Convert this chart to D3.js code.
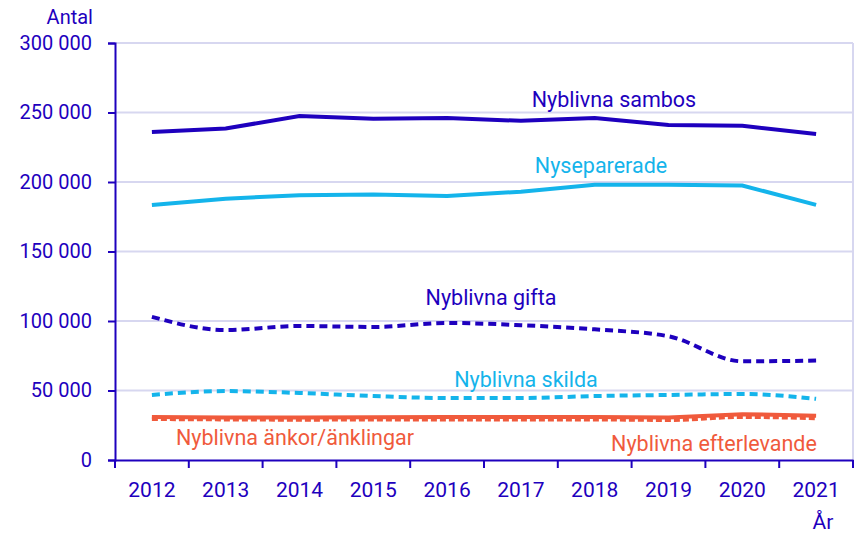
<!DOCTYPE html>
<html><head><meta charset="utf-8">
<script src="https://cdn.jsdelivr.net/npm/d3@7"></script>
<style>body{margin:0;background:#fff;} text{font-family:Roboto, sans-serif;}</style>
</head><body><svg id="c" width="861" height="539"></svg>
<script>
const years = ["2012","2013","2014","2015","2016","2017","2018","2019","2020","2021"];
const sambos = [236000,238500,247500,245500,246000,244000,246000,241000,240500,234500];
const nyseparerade = [183500,188000,190500,191000,190000,193000,198000,198000,197500,183500];
const gifta = [103000,93500,96400,95700,98600,97000,94000,89000,71000,71500];
const skilda = [46800,49600,48200,46000,44600,44600,46000,46800,47500,44000];
const ankor = [31000,30500,30500,30800,31000,31000,31000,30500,33000,31800];
const efterlevande = [29500,29200,29000,29200,29200,29200,29200,28800,31000,30000];
const yTicks = [0,50000,100000,150000,200000,250000,300000];

const C_DARK="#1E00BE", C_LIGHT="#14B4EB", C_RED="#F05A3C", C_GRID="#D7D7F0";
const series = [
 {name:"Nyblivna sambos", vals:sambos, color:C_DARK, dash:null, lx:614, ly:107},
 {name:"Nyseparerade", vals:nyseparerade, color:C_LIGHT, dash:null, lx:601, ly:173},
 {name:"Nyblivna gifta", vals:gifta, color:C_DARK, dash:"8,5", lx:491, ly:305},
 {name:"Nyblivna skilda", vals:skilda, color:C_LIGHT, dash:"8,5", lx:526, ly:387},
 {name:"Nyblivna efterlevande", vals:efterlevande, color:C_RED, dash:"6,3", lx:714, ly:451},
 {name:"Nyblivna änkor/änklingar", vals:ankor, color:C_RED, dash:null, lx:295, ly:445},
];

const svg=d3.select("#c");
const L=115,R=853,T=43,B=460;
const x=d3.scaleBand().domain(years).range([L,R]);
const y=d3.scaleLinear().domain([0,300000]).range([B,T]);
const fmt=v=>d3.format(",")(v).replace(/,/g," ");

// grid
svg.append("g").selectAll("line").data(yTicks.filter(d=>d>0)).join("line")
 .attr("x1",L).attr("x2",R).attr("y1",d=>y(d)).attr("y2",d=>y(d))
 .attr("stroke",C_GRID).attr("stroke-width",2);
svg.append("line").attr("x1",R).attr("x2",R).attr("y1",T).attr("y2",B).attr("stroke",C_GRID).attr("stroke-width",2);

// y axis
const ya=svg.append("g").attr("transform",`translate(${L},0)`)
 .call(d3.axisLeft(y).tickValues(yTicks).tickFormat(fmt).tickSize(7).tickPadding(16));
ya.select(".domain").attr("stroke",C_DARK).attr("stroke-width",2);
ya.selectAll(".tick line").attr("stroke",C_DARK).attr("stroke-width",2);
ya.selectAll("text").attr("fill",C_DARK).style("font-size","20px").style("font-family","Roboto");

// x axis
const xa=svg.append("g").attr("transform",`translate(0,${B})`)
 .call(d3.axisBottom(x).tickSize(0).tickPadding(22));
xa.select(".domain").attr("stroke",C_DARK).attr("stroke-width",2);
xa.selectAll("text").attr("fill",C_DARK).style("font-size","21px").style("font-family","Roboto");
const bounds=years.map(d=>x(d)).concat([R]);
svg.append("g").selectAll("line").data(bounds).join("line")
 .attr("x1",d=>d).attr("x2",d=>d).attr("y1",B).attr("y2",B+8).attr("stroke",C_DARK).attr("stroke-width",2);

svg.append("text").attr("x",93).attr("y",24).attr("text-anchor","end").attr("fill",C_DARK).style("font-size","20px").text("Antal");
svg.append("text").attr("x",823).attr("y",529).attr("text-anchor","middle").attr("fill",C_DARK).style("font-size","21px").text("År");

// lines
const cx=d=>x(d)+x.bandwidth()/2;
series.forEach(s=>{
 const line=d3.line().x((v,i)=>cx(years[i])).y(v=>y(v)).curve(s.dash?d3.curveMonotoneX:d3.curveLinear);
 svg.append("path").datum(s.vals).attr("d",line).attr("fill","none")
  .attr("stroke",s.color).attr("stroke-width",4).attr("stroke-dasharray",s.dash);
 svg.append("text").attr("x",s.lx).attr("y",s.ly).attr("text-anchor","middle")
  .attr("fill",s.color).style("font-size","21.5px").text(s.name);
});
</script></body></html>
